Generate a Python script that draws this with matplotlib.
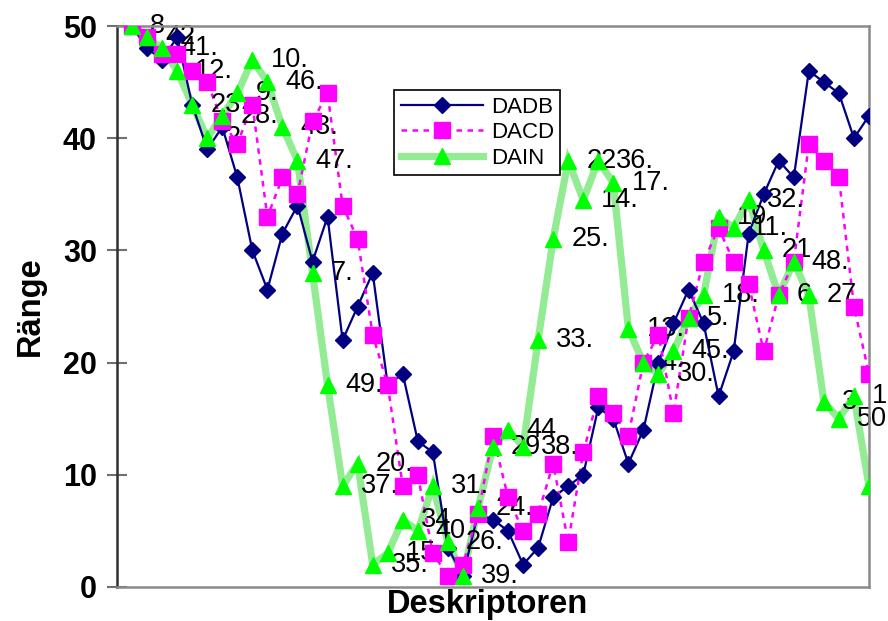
import numpy as np
import matplotlib
matplotlib.use("Agg")
import matplotlib.pyplot as plt

plt.rcParams['font.family'] = ['Liberation Sans', 'DejaVu Sans']

# rank of each descriptor under the three methods (x = position 1..50)
dadb = [50, 48, 47, 49, 43, 39, 41, 36.5, 30, 26.5,
        31.5, 34, 29, 33, 22, 25, 28, 18, 19, 13,
        12, 3.5, 1, 6.5, 6, 5, 2, 3.5, 8, 9,
        10, 16, 15, 11, 14, 20, 23.5, 26.5, 23.5, 17,
        21, 31.5, 35, 38, 36.5, 46, 45, 44, 40, 42]
dacd = [50, 49, 47.5, 47.5, 46, 45, 41.5, 39.5, 43, 33,
        36.5, 35, 41.5, 44, 34, 31, 22.5, 18, 9, 10,
        3, 1, 2, 6.5, 13.5, 8, 5, 6.5, 11, 4,
        12, 17, 15.5, 13.5, 20, 22.5, 15.5, 24, 29, 32,
        29, 27, 21, 26, 29, 39.5, 38, 36.5, 25, 19]
dain = [50, 49, 48, 46, 43, 40, 42, 44, 47, 45,
        41, 38, 28, 18, 9, 11, 2, 3, 6, 5,
        9, 4, 1, 7, 12.5, 14, 12.5, 22, 31, 38,
        34.5, 38, 36, 23, 20, 19, 21, 24, 26, 33,
        32, 34.5, 30, 26, 29, 26, 16.5, 15, 17, 9]
point_labels = ["8", "42", "41.", "12.", "23", "2.", "28.", "9.", "10.", "46.",
                "43.", "47.", "7.", "49.", "37.", "20.", "35.", "15.", "34", "40",
                "31.", "26.", "39.", "24.", "29", "44", "38.", "33.", "25.", "22",
                "14.", "36.", "17.", "13.", "4", "30.", "45.", "5.", "18.", "19",
                "11.", "32.", "21", "6.", "48.", "27.", "3", "50", "1", "16."]

x = np.arange(1, len(dain) + 1)

fig = plt.figure(figsize=(8.88, 6.21), dpi=100)
ax = fig.add_axes([117 / 888, 1 - 587 / 621, 752 / 888, 561 / 621])

navy = '#000080'
pink = '#FF00FF'
green = '#00FF00'
pale = '#93EC93'

# lines first, then markers on top
ax.plot(x, dain, color=pale, lw=5.2, zorder=2, solid_joinstyle='miter')
ax.plot(x, dadb, color=navy, lw=1.6, zorder=2.1)
ax.plot(x, dacd, color=pink, lw=1.8, ls=(0, (2.2, 2.2)), zorder=2.2)

for i, lab in enumerate(point_labels):
    ax.annotate(lab, (x[i], dain[i]), xytext=(13, 0), textcoords='offset points',
                ha='left', va='center', fontsize=19.5, color='black',
                zorder=2.5, annotation_clip=False)

ax.plot(x, dadb, ls='none', marker='D', ms=8, color=navy, mec=navy, zorder=3)
ax.plot(x, dacd, ls='none', marker='s', ms=11, color=pink, mec=pink, zorder=3.1)
ax.plot(x, dain, ls='none', marker='^', ms=11.5, color=green, mec=green, zorder=3.2)

ax.set_xlim(0, 50)
ax.set_ylim(0, 50)
ax.set_xticks([])
ax.set_yticks([0, 10, 20, 30, 40, 50])
ax.tick_params(axis='y', direction='inout', length=15, width=1.5, color='#707070',
               labelsize=22, pad=7)
for t in ax.get_yticklabels():
    t.set_fontweight('bold')

for side in ['top', 'right', 'bottom']:
    ax.spines[side].set_color('#8a8a8a')
    ax.spines[side].set_linewidth(1.8)
ax.spines['left'].set_color('#303030')
ax.spines['left'].set_linewidth(1.8)

ax.set_ylabel('Ränge', fontsize=23.5, fontweight='bold')
ax.yaxis.set_label_coords((46 - 117) / 752, 0.5)
fig.text(487 / 888, 1 - 604 / 621, 'Deskriptoren', fontsize=23.5, fontweight='bold',
         ha='center', va='center')

# legend handles styled like the series
h1, = ax.plot([], [], color=navy, lw=1.6, marker='D', ms=8, mec=navy)
h2, = ax.plot([], [], color=pink, lw=1.8, ls=(0, (2.2, 2.2)), marker='s', ms=11, mec=pink)
h3, = ax.plot([], [], color=pale, lw=5.2, marker='^', ms=11.5, mfc=green, mec=green)
leg = ax.legend([h1, h2, h3], ['DADB', 'DACD', 'DAIN'], loc='upper left',
                bbox_to_anchor=(394 / 888, 1 - 90 / 621), bbox_transform=fig.transFigure,
                borderaxespad=0, fontsize=16, handlelength=3.7, handletextpad=0.35,
                labelspacing=0.2, borderpad=0.3, numpoints=1, fancybox=False,
                framealpha=1, edgecolor='black')
leg.get_frame().set_linewidth(1.2)
leg.set_zorder(6)

fig.savefig('out.png', dpi=100)
